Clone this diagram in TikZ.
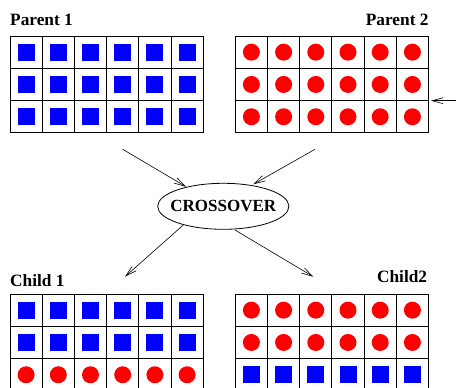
\documentclass[tikz,border=0pt]{standalone}
\usepackage{fontspec}
\setmainfont{Liberation Serif}
\usetikzlibrary{arrows.meta,shapes.geometric}
\definecolor{sqblue}{RGB}{0,0,255}
\definecolor{cired}{RGB}{255,0,0}
\newcommand{\drawchrom}[4]{%
  \foreach \r/\t in {#4} {
    \foreach \c in {0,...,5} {
      \node[\t] (#3-\r-\c) at ({#1+(\c+0.5)*32.2},{#2+(\r+0.5)*32.3}) {};
    }
  }
  \foreach \c in {0,...,6} \draw[gridline] ({#1+\c*32.2},#2) -- ({#1+\c*32.2},{#2+3*32.3});
  \foreach \r in {0,...,3} \draw[gridline] (#1,{#2+\r*32.3}) -- ({#1+6*32.2},{#2+\r*32.3});
}
\begin{document}
\begin{tikzpicture}[x=1pt,y=-1pt,
  lbl/.style={font=\fontsize{17.3}{20}\selectfont\bfseries, inner sep=0pt},
  gridline/.style={line width=0.9pt, black, line cap=rect},
  conn/.style={line width=0.6pt, -{Straight Barb[length=11pt,width=6pt]}},
  sq/.style={fill=sqblue, draw=none, minimum size=17pt, inner sep=0pt, rectangle},
  ci/.style={fill=cired, draw=none, minimum size=17pt, inner sep=0pt, circle}]
\useasboundingbox (0,0) rectangle (456,388);
\fill[white] (0,0) rectangle (456,388);
% labels
\node[lbl, anchor=base west] (lp1) at (10,25) {Parent 1};
\node[lbl, anchor=base east] (lp2) at (428.7,25) {Parent 2};
\node[lbl, anchor=base west] (lc1) at (10,286) {Child 1};
\node[lbl, anchor=base east] (lc2) at (427.3,282.5) {Child2};
% chromosomes
\drawchrom{10}{36}{pa}{0/sq,1/sq,2/sq}
\drawchrom{235.3}{36}{pb}{0/ci,1/ci,2/ci}
\drawchrom{10}{294}{ca}{0/sq,1/sq,2/ci}
\drawchrom{235.3}{294}{cb}{0/ci,1/ci,2/sq}
% crossover
\node[ellipse, draw, line width=0.8pt, inner xsep=-6.5pt, inner ysep=0pt, minimum height=46pt,
      font=\fontsize{17}{20}\selectfont\bfseries] (cross) at (223.3,206.3) {CROSSOVER};
% connectors
\coordinate (a1s) at (122.7,149.3);
\coordinate (a1e) at (186,186.7);
\coordinate (a2s) at (315,149.3);
\coordinate (a2e) at (253.3,184.3);
\coordinate (a3s) at (183.3,225);
\coordinate (a3e) at (125,276.7);
\coordinate (a4s) at (235,230);
\coordinate (a4e) at (313.3,276.7);
\coordinate (inS) at (458,100.7);
\coordinate (inE) at (431,100.7);
\draw[conn] (a1s) -- (a1e);
\draw[conn] (a2s) -- (a2e);
\draw[conn] (a3s) -- (a3e);
\draw[conn] (a4s) -- (a4e);
\draw[conn] (inS) -- (inE);
\end{tikzpicture}
\end{document}
